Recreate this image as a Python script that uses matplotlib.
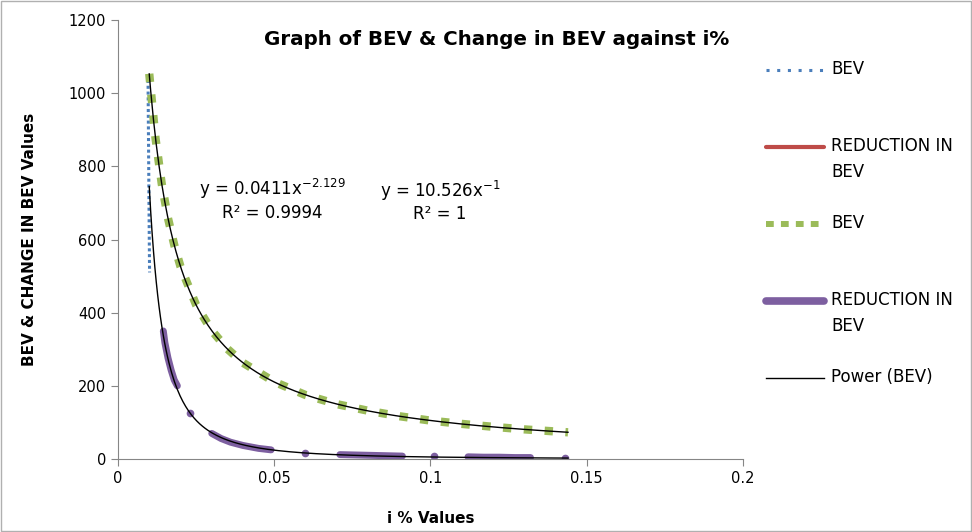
import numpy as np
import matplotlib
matplotlib.use('Agg')
import matplotlib.pyplot as plt
from matplotlib.lines import Line2D
from matplotlib.patches import Rectangle

plt.rcParams['font.family'] = ['DejaVu Sans']
plt.rcParams['mathtext.fontset'] = 'dejavusans'

# blue dotted BEV series (nearly vertical at i ~ 0.01)
bev1_i = [0.0096, 0.0097, 0.0098, 0.0099, 0.0100, 0.0101]
bev1_v = [1052, 940, 830, 720, 610, 510]

# green BEV series
bev2_i = [0.01, 0.012, 0.014, 0.016, 0.018, 0.02, 0.025, 0.03, 0.035, 0.04,
          0.05, 0.06, 0.07, 0.08, 0.09, 0.1, 0.11, 0.12, 0.13, 0.144]
bev2_v = [1053, 877, 752, 658, 585, 526, 421, 351, 301, 263,
          211, 175, 150, 132, 117, 105, 96, 88, 81, 73]

# reduction in BEV (gaps are blank cells)
red_i = [0.0145, 0.015, 0.016, 0.017, 0.018, 0.019, 0.021, 0.023, 0.026,
         0.030, 0.033, 0.036, 0.040, 0.045, 0.049, 0.055, 0.060, 0.065,
         0.071, 0.076, 0.081, 0.086, 0.091, 0.096, 0.101, 0.106,
         0.112, 0.117, 0.122, 0.127, 0.132, 0.137, 0.143]
red_v = [350, 318, 276, 243, 216, 200, np.nan, 126, np.nan,
         70, 56, 46, 37, 29, 25, np.nan, 17, np.nan,
         12, 11, 10, 9, 8, np.nan, 7, np.nan,
         6, 5, 5, 4, 4, np.nan, 3]

# trendline equations shown on the chart
fit_red = (0.0411, -2.129)
fit_bev = (10.526, -1.0)

fig = plt.figure(figsize=(9.72, 5.32), dpi=100)
ax = fig.add_axes([0.1214, 0.1372, 0.6430, 0.8252])

ax.plot(bev1_i, bev1_v, color='#4a7ebb', lw=2.2, linestyle=(0, (1, 0.9)))
ax.plot(red_i, red_v, color='#be4b48', lw=2)
ax.plot(red_i, red_v, color='#7d5fa0', lw=5, solid_capstyle='round')
rv = np.array(red_v)
iso = [k for k in range(len(rv)) if not np.isnan(rv[k])
       and (k == 0 or np.isnan(rv[k-1])) and (k == len(rv)-1 or np.isnan(rv[k+1]))]
ax.plot([red_i[k] for k in iso], [red_v[k] for k in iso], 'o', color='#7d5fa0', ms=5.5, mew=0)
ax.plot(bev2_i, bev2_v, color='#9bbb59', lw=6, linestyle=(0, (1, 1.5)), dash_capstyle='butt')

xt = np.linspace(0.01, 0.144, 300)
ax.plot(xt, fit_red[0] * xt ** fit_red[1], color='black', lw=1)
ax.plot(xt, fit_bev[0] * xt ** fit_bev[1], color='black', lw=1)

ax.set_xlim(0, 0.2)
ax.set_ylim(0, 1200)
ax.set_xticks([0, 0.05, 0.1, 0.15, 0.2])
ax.set_xticklabels(['0', '0.05', '0.1', '0.15', '0.2'])
ax.set_yticks(range(0, 1201, 200))
for s in ['top', 'right']:
    ax.spines[s].set_visible(False)
for s in ['left', 'bottom']:
    ax.spines[s].set_color('#868686')
ax.tick_params(colors='#868686', labelcolor='black', labelsize=10.5, length=5)

fig.text(0.511, 0.925, 'Graph of BEV & Change in BEV against i%', ha='center', va='center',
         fontsize=14.3, fontweight='bold')
ax.set_xlabel('i % Values', fontsize=11, fontweight='bold', labelpad=18)
ax.set_ylabel('BEV & CHANGE IN BEV Values', fontsize=11, fontweight='bold', labelpad=23)

ax.text(0.0495, 738, r'y = 0.0411x$^{-2.129}$', ha='center', va='center', fontsize=12)
ax.text(0.0495, 673, 'R² = 0.9994', ha='center', va='center', fontsize=12)
ax.text(0.1030, 733, r'y = 10.526x$^{-1}$', ha='center', va='center', fontsize=12)
ax.text(0.1030, 670, 'R² = 1', ha='center', va='center', fontsize=12)

# legend drawn by hand: Excel keeps the first lines on an even step
leg_handles = [
    dict(color='#4a7ebb', lw=2.2, linestyle=(0, (1, 2.5))),
    dict(color='#be4b48', lw=3, solid_capstyle='round'),
    dict(color='#9bbb59', lw=4.3, linestyle=(0, (1.3, 1.2)), dash_capstyle='butt'),
    dict(color='#7d5fa0', lw=5.5, solid_capstyle='round'),
    dict(color='black', lw=1),
]
leg_labels = ['BEV', 'REDUCTION IN\nBEV', 'BEV', 'REDUCTION IN\nBEV', 'Power (BEV)']
W, H = 972, 532
for k, (hd, lab) in enumerate(zip(leg_handles, leg_labels)):
    ypx = 70 + 77 * k
    fig.add_artist(Line2D([766 / W, 824 / W], [1 - ypx / H] * 2, transform=fig.transFigure, **hd))
    fig.text(831 / W, 1 - (ypx - 10) / H, lab, ha='left', va='top', fontsize=12,
             linespacing=1.6, transform=fig.transFigure)

fig.patches.append(Rectangle((0.001, 0.002), 0.998, 0.996, transform=fig.transFigure,
                             fill=False, edgecolor='#b0b0b0', lw=1))

fig.savefig('out.png', dpi=100)
